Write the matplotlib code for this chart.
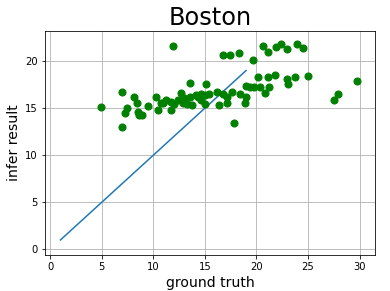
import matplotlib
matplotlib.use("Agg")
import matplotlib.pyplot as plt

truth = [4.95, 6.95, 6.95, 7.24, 7.43, 8.1, 8.4, 8.5, 8.6, 8.95, 9.5, 10.3, 10.7, 10.95, 10.5,
         11.9, 11.7, 11.7, 12.0, 12.7, 12.9, 13.0, 13.6, 13.6, 13.3, 14.1, 14.6, 14.6, 15.0,
         15.1, 15.0, 15.4, 16.2, 16.4, 16.8, 17.1, 17.1, 17.8, 16.8, 17.4, 18.3, 17.6, 18.4,
         19.0, 18.9, 19.0, 19.4, 19.8, 19.7, 20.2, 20.3, 20.8, 21.1, 21.2, 21.8, 20.6, 21.1,
         21.9, 22.4, 23.0, 23.9, 24.5, 23.0, 23.1, 23.7, 25.0, 27.5, 27.9, 29.8,
         11.2, 12.4, 13.8, 14.3]
infer = [15.1, 16.7, 13.0, 14.5, 15.0, 16.2, 15.5, 14.6, 14.3, 14.3, 15.2, 16.2, 15.6, 15.5, 14.8,
         21.6, 15.7, 14.8, 15.4, 16.6, 15.6, 16.1, 17.7, 16.2, 15.4, 16.4, 15.9, 16.5, 15.4,
         17.6, 16.4, 16.5, 16.7, 15.3, 16.5, 15.5, 16.2, 13.4, 20.6, 20.6, 20.9, 16.7, 16.5,
         16.2, 15.5, 17.4, 17.2, 17.3, 20.1, 18.3, 17.2, 16.6, 18.3, 17.2, 18.5, 21.6, 21.0,
         21.5, 21.8, 21.3, 21.8, 21.4, 18.1, 17.6, 18.3, 18.4, 15.9, 16.5, 17.9,
         15.9, 15.9, 15.3, 16.2]
line_x = [1, 19]
line_y = [1, 19]

fig = plt.figure(figsize=(390/72, 291/72), dpi=72)
ax = fig.add_axes([45/390, 1-255/291, 330/390, 224/291])
ax.scatter(truth, infer, color='green', s=50, zorder=3)
ax.plot(line_x, line_y, color='#1f77b4', lw=1.5, zorder=2)
ax.set_xlim(-0.5, 31.5)
ax.set_ylim(-0.6, 23.2)
ax.set_xticks([0, 5, 10, 15, 20, 25, 30])
ax.set_yticks([0, 5, 10, 15, 20])
ax.grid(True, color='#b0b0b0', lw=0.8)
ax.set_axisbelow(True)
ax.set_title('Boston', fontsize=24)
ax.set_xlabel('ground truth', fontsize=14)
ax.set_ylabel('infer result', fontsize=14)
ax.tick_params(labelsize=10)
fig.savefig('out.png', dpi=72)
